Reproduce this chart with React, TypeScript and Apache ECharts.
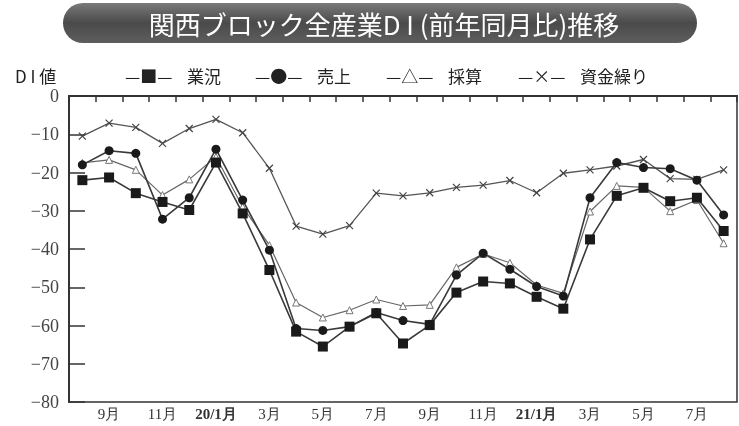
import React, { useEffect, useRef } from "react";
import * as echarts from "echarts";

const months = ["8月","9月","10月","11月","12月","20/1月","2月","3月","4月","5月","6月","7月","8月","9月","10月","11月","12月","21/1月","2月","3月","4月","5月","6月","7月","8月"];
const gyokyo = [-22.0,-21.3,-25.4,-27.7,-29.8,-17.4,-30.7,-45.5,-61.6,-65.5,-60.3,-56.8,-64.7,-59.9,-51.4,-48.5,-49.0,-52.5,-55.6,-37.5,-26.1,-24.0,-27.5,-26.6,-35.3];
const uriage = [-18.0,-14.3,-15.0,-32.2,-26.6,-13.9,-27.2,-40.3,-60.8,-61.3,-60.3,-56.6,-58.7,-59.7,-46.8,-41.1,-45.3,-49.8,-52.3,-26.6,-17.4,-18.7,-19.0,-22.0,-31.1];
const saisan = [-17.5,-16.7,-19.3,-25.9,-21.8,-15.9,-29.0,-39.0,-54.0,-57.9,-56.0,-53.2,-54.9,-54.6,-44.8,-41.3,-43.6,-49.4,-51.6,-30.2,-23.5,-23.9,-30.1,-27.2,-38.5];
const shikin = [-10.5,-7.1,-8.2,-12.4,-8.5,-6.1,-9.6,-18.9,-34.0,-36.1,-33.9,-25.4,-26.1,-25.3,-23.9,-23.3,-22.1,-25.3,-20.2,-19.3,-18.3,-16.6,-21.6,-21.8,-19.3];
const seriesNames = ["業況","売上","採算","資金繰り"];

export default function App() {
  const ref = useRef<HTMLDivElement>(null);
  useEffect(() => {
    const chart = echarts.init(ref.current!, null, { renderer: "svg" });
    const serif = "Liberation Serif";
    const sans = "Noto Sans CJK JP";
    const legendItems = [
      { mark: "—■—", name: seriesNames[0], x: 125 },
      { mark: "—●—", name: seriesNames[1], x: 255 },
      { mark: "—△—", name: seriesNames[2], x: 386 },
      { mark: "—×—", name: seriesNames[3], x: 518 },
    ];
    const graphics: any[] = [
      {
        type: "rect",
        shape: { x: 63, y: 3, width: 634, height: 40, r: 20 },
        style: {
          fill: new echarts.graphic.LinearGradient(0, 0, 0, 1, [
            { offset: 0, color: "#7a7a7a" },
            { offset: 0.5, color: "#4a4a4a" },
            { offset: 1, color: "#5e5e5e" },
          ]),
        },
      },
      {
        type: "text",
        x: 384,
        y: 23,
        style: {
          text: "関西ブロック全産業D I (前年同月比)推移",
          fill: "#ffffff",
          fontFamily: sans,
          fontSize: 26,
          textAlign: "center",
          textVerticalAlign: "middle",
        },
      },
      {
        type: "text",
        x: 15,
        y: 75,
        style: { text: "D I 値", fill: "#222", fontFamily: sans, fontSize: 17, textVerticalAlign: "middle" },
      },
    ];
    legendItems.forEach((it) => {
      graphics.push({
        type: "text",
        x: it.x,
        y: 75,
        style: { text: it.mark, fill: "#222", fontFamily: sans, fontSize: 17, textVerticalAlign: "middle" },
      });
      graphics.push({
        type: "text",
        x: it.x + 62,
        y: 75,
        style: { text: it.name, fill: "#222", fontFamily: sans, fontSize: 17, textVerticalAlign: "middle" },
      });
    });

    const lineBase = (name: string, data: number[], color: string, width: number) => ({
      name,
      type: "line",
      data,
      lineStyle: { color, width },
      itemStyle: { color },
      z: 3,
    });

    chart.setOption({
      animation: false,
      grid: { left: 69, right: 2, top: 96, bottom: 24, show: true, borderColor: "#333", borderWidth: 1.5, backgroundColor: "transparent" },
      graphic: graphics,
      xAxis: [
        {
          type: "category",
          data: months,
          boundaryGap: true,
          position: "bottom",
          axisLine: { lineStyle: { color: "#333", width: 2 } },
          axisTick: { show: false },
          axisLabel: {
            interval: (i: number) => i % 2 === 1,
            color: "#333",
            fontFamily: serif,
            fontSize: 15,
            margin: 4,
            formatter: (v: string) => (v.includes("/") ? `{b|${v}}` : v),
            rich: { b: { fontWeight: "bold", fontFamily: serif, fontSize: 15, color: "#333" } },
          },
        },
        {
          type: "category",
          data: months,
          boundaryGap: true,
          position: "top",
          axisLine: { lineStyle: { color: "#333", width: 2 } },
          axisTick: { show: true, inside: true, length: 6, interval: 0, lineStyle: { color: "#333", width: 1.5 } },
          axisLabel: { show: false },
        },
      ],
      yAxis: {
        type: "value",
        min: -80,
        max: 0,
        interval: 10,
        axisLine: { show: true, lineStyle: { color: "#333", width: 2 } },
        axisTick: { show: true, inside: true, length: 16, lineStyle: { color: "#333", width: 1.5 } },
        splitLine: { show: false },
        axisLabel: {
          color: "#444",
          fontFamily: serif,
          fontSize: 18,
          margin: 10,
          formatter: (v: number) => String(v).replace("-", "−"),
        },
      },
      series: [
        { ...lineBase(seriesNames[3], shikin, "#555", 1.3), symbol: "path://M0,0L10,10M10,0L0,10", symbolSize: 7, itemStyle: { color: "none", borderColor: "#444", borderWidth: 1.2 } },
        { ...lineBase(seriesNames[2], saisan, "#666", 1.2), symbol: "triangle", symbolSize: 7, itemStyle: { color: "#fff", borderColor: "#777", borderWidth: 1 } },
        { ...lineBase(seriesNames[1], uriage, "#3a3a3a", 1.6), symbol: "circle", symbolSize: 9, itemStyle: { color: "#1a1a1a" } },
        { ...lineBase(seriesNames[0], gyokyo, "#3a3a3a", 1.6), symbol: "rect", symbolSize: 10, itemStyle: { color: "#1a1a1a" } },
      ],
    });
    return () => chart.dispose();
  }, []);
  return <div ref={ref} style={{ position: "fixed", left: 0, top: 0, width: 739, height: 426 }} />;
}
